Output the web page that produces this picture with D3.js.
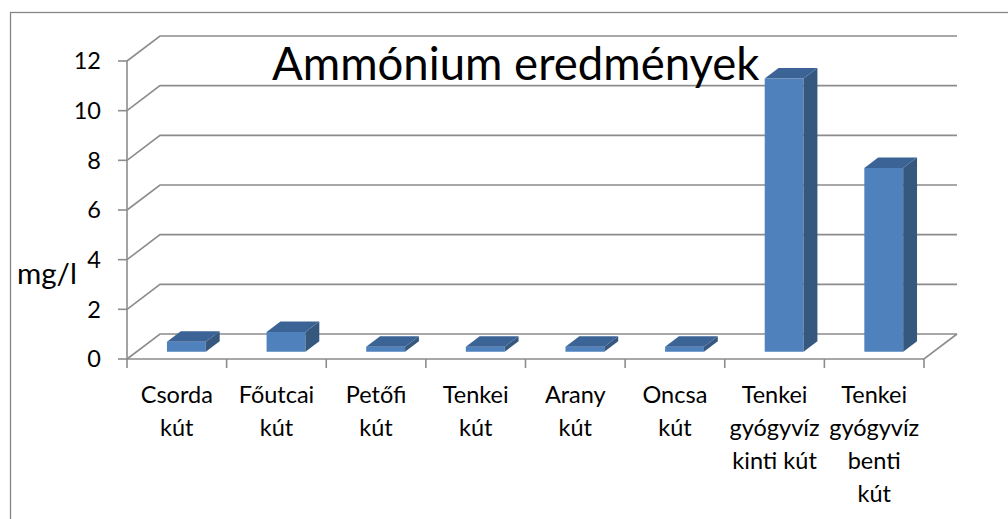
<!DOCTYPE html>
<html>
<head>
<meta charset="utf-8">
<script src="https://cdn.jsdelivr.net/npm/d3@7"></script>
<style>
  body { margin: 0; background: #fff; }
  text { font-family: Lato, "Open Sans", sans-serif; fill: #000; }
</style>
</head>
<body>
<div id="chart"></div>
<script>
// data
const categories = ["Csorda\nkút", "Főutcai\nkút", "Petőfi\nkút", "Tenkei\nkút",
  "Arany\nkút", "Oncsa\nkút", "Tenkei\ngyógyvíz\nkinti kút", "Tenkei\ngyógyvíz\nbenti\nkút"];
const values = [0.4, 0.8, 0.2, 0.2, 0.2, 0.2, 11, 7.4];
const yTicks = [0, 2, 4, 6, 8, 10, 12];
const title = "Ammónium eredmények";
const yLabel = "mg/l";

const width = 1008, height = 519;
const depth = { dx: 33, dy: -25 };   // floor depth offset
const barDepth = [0.29, 0.71];        // bar front/back as fraction of depth

const svg = d3.select("#chart").append("svg")
    .attr("width", width)
    .attr("height", height);

// outer chart border
svg.append("rect")
    .attr("x", 10.5).attr("y", 12.5)
    .attr("width", 1010).attr("height", 520)
    .attr("fill", "none")
    .attr("stroke", "#868686")
    .attr("stroke-width", 1.3);

const x = d3.scaleBand()
    .domain(categories)
    .range([127, 924]);

const y = d3.scaleLinear()
    .domain([0, 12])
    .range([359, 61]);

const x0 = x.range()[0], x1 = x.range()[1];
const grid = svg.append("g")
    .attr("stroke", "#8c8c8c")
    .attr("stroke-width", 1.6)
    .attr("fill", "none");

// back wall gridlines with diagonals to the front axis
yTicks.forEach(v => {
    const yy = y(v);
    grid.append("path")
        .attr("d", `M${x0},${yy}L${x0 + depth.dx},${yy + depth.dy}L${x1 + depth.dx},${yy + depth.dy}`);
    // y tick mark
    grid.append("line")
        .attr("x1", x0 - 9).attr("x2", x0)
        .attr("y1", yy).attr("y2", yy);
});

// floor front edge + right diagonal
grid.append("path")
    .attr("d", `M${x0},${y(0)}L${x1},${y(0)}L${x1 + depth.dx},${y(0) + depth.dy}`);

// y axis line
grid.append("line")
    .attr("x1", x0).attr("x2", x0)
    .attr("y1", y(12)).attr("y2", y(0));

// x ticks at category boundaries
const bounds = categories.map(c => x(c)).concat([x1]);
grid.selectAll("line.xt")
    .data(bounds)
    .enter().append("line")
    .attr("class", "xt")
    .attr("x1", d => d).attr("x2", d => d)
    .attr("y1", y(0)).attr("y2", y(0) + 9);

// y tick labels
svg.append("g").selectAll("text")
    .data(yTicks)
    .enter().append("text")
    .attr("x", 101)
    .attr("y", d => y(d))
    .attr("dy", "0.36em")
    .attr("text-anchor", "end")
    .attr("font-size", 23.5)
    .text(d => d);

// axis title
svg.append("text")
    .attr("x", 17)
    .attr("y", 284)
    .attr("font-size", 29.5)
    .text(yLabel);

// 3D bars
const bw = x.bandwidth() * 0.39;
const fx = depth.dx * barDepth[0], fy = depth.dy * barDepth[0];
const bdx = depth.dx * (barDepth[1] - barDepth[0]);
const bdy = depth.dy * (barDepth[1] - barDepth[0]);

const bars = svg.append("g").selectAll("g")
    .data(categories.map((c, i) => ({ name: c, value: values[i] })))
    .enter().append("g")
    .attr("transform", d => `translate(${x(d.name) + x.bandwidth() / 2 - bw / 2 + fx},${fy})`);

// front face
bars.append("rect")
    .attr("x", 0)
    .attr("y", d => y(d.value))
    .attr("width", bw)
    .attr("height", d => y(0) - y(d.value))
    .attr("fill", "#4f81bd");

// side face
bars.append("path")
    .attr("d", d => `M${bw},${y(d.value)}L${bw + bdx},${y(d.value) + bdy}L${bw + bdx},${y(0) + bdy}L${bw},${y(0)}Z`)
    .attr("fill", "#36587f");

// top face
bars.append("path")
    .attr("d", d => `M0,${y(d.value)}L${bdx},${y(d.value) + bdy}L${bw + bdx},${y(d.value) + bdy}L${bw},${y(d.value)}Z`)
    .attr("fill", "#3b6396");

// category labels
const labels = svg.append("g").selectAll("text")
    .data(categories)
    .enter().append("text")
    .attr("text-anchor", "middle")
    .attr("font-size", 23.5)
    .attr("transform", d => `translate(${x(d) + x.bandwidth() / 2},403)`);

labels.selectAll("tspan")
    .data(d => d.split("\n"))
    .enter().append("tspan")
    .attr("x", 0)
    .attr("y", (d, i) => i * 33)
    .text(d => d);

// chart title
svg.append("text")
    .attr("x", 272)
    .attr("y", 80)
    .attr("font-size", 45.5)
    .text(title);
</script>
</body>
</html>
